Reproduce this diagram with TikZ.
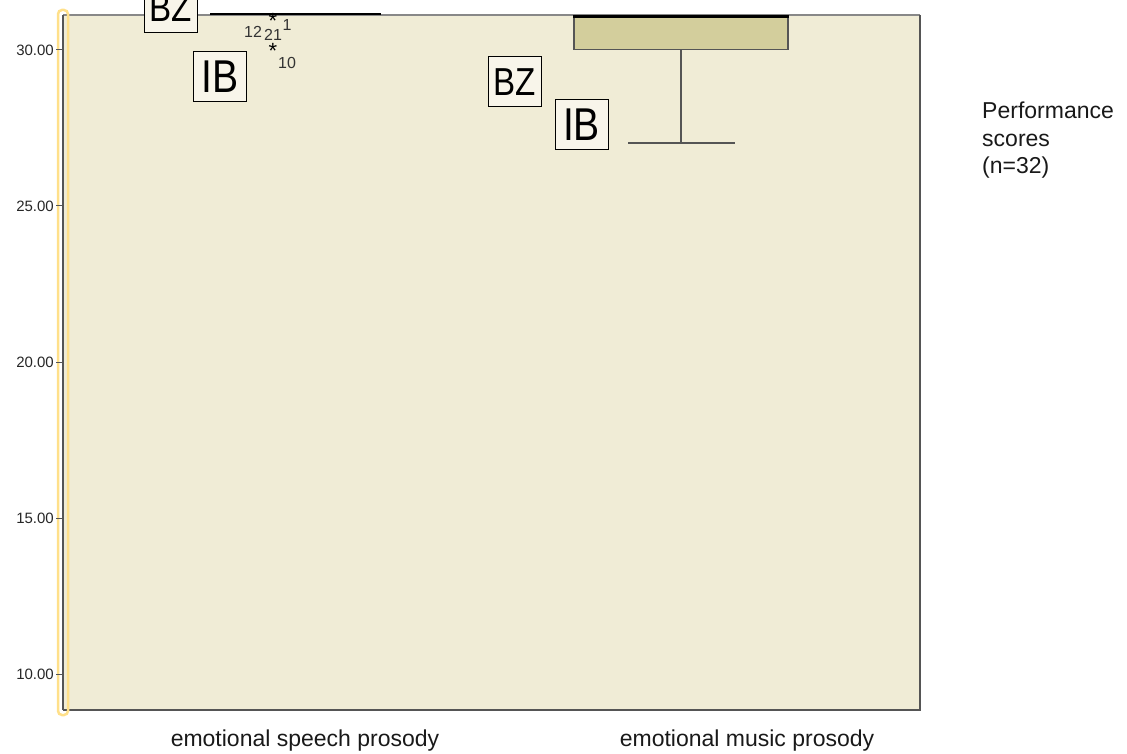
\documentclass[tikz,border=0pt]{standalone}
\usepackage{fontspec}
\setmainfont{Liberation Sans}
\usetikzlibrary{positioning}
\definecolor{plotbg}{HTML}{F0ECD6}
\definecolor{boxfill}{HTML}{D3CE9C}
\definecolor{axisyellow}{HTML}{FFE08A}
\definecolor{framegray}{HTML}{555555}

\begin{document}
\begin{tikzpicture}[x=1pt, y=-1pt]
        \tikzstyle{tag} = [rectangle, draw=black, fill=plotbg!50!white, line width=1pt,
          minimum width=53pt, minimum height=50pt, inner sep=0pt]
        \tikzstyle{tick} = [font=\fontsize{15}{18}\selectfont, anchor=east, inner sep=0pt, text=black!85]
        \tikzstyle{case} = [font=\fontsize{16}{18}\selectfont, inner sep=0pt, text=black!80]
        \tikzstyle{outlier} = [font=\fontsize{22}{22}\selectfont, inner sep=0pt, text=black]
        \tikzstyle{catlabel} = [font=\fontsize{23}{27.5}\selectfont, inner sep=0pt, text=black!90]

        \useasboundingbox (0,0) rectangle (1127,754);
        \clip (0,0) rectangle (1127,754);

        % plot area
        \fill[plotbg] (63,15) rectangle (920,710);
        \draw[framegray!70, line width=1.2pt] (63,15) -- (920,15);
        \draw[framegray, line width=1.5pt] (920,15) -- (920,710) -- (63,710);
        \draw[axisyellow, line width=2.5pt, rounded corners=4pt] (58,10) rectangle (68,715);
        \draw[framegray, line width=1.5pt] (63,15) -- (63,710);

        % y axis
        \foreach \val [count=\i] in {30.00,25.00,20.00,15.00,10.00} {
          \draw[framegray, line width=1pt] (56,50+156*\i-156) -- (62,50+156*\i-156);
          \node[tick] (tick\i) at (54,50+156*\i-156) {\val};
        }

        % emotional speech prosody
        \draw[line width=2pt] (210,14) -- (381,14);
        \node[outlier] (o1) at (273,21) {*};
        \node[outlier] (o10) at (273,51) {*};
        \node[case] at (287,25) {1};
        \node[case] at (253,32) {12};
        \node[case] at (273,35) {21};
        \node[case] at (287,63) {10};
        \node[tag, font=\fontsize{39}{39}\selectfont] (bzs) at (171,8) {\scalebox{0.85}[1]{BZ}};
        \node[tag, font=\fontsize{46}{46}\selectfont] (ibs) at (220,77) {\scalebox{0.85}[1]{IB}};

        % emotional music prosody
        \node[rectangle, draw=framegray, fill=boxfill, line width=1.2pt, anchor=north,
          minimum width=214pt, minimum height=34pt, inner sep=0pt] (mbox) at (681,15) {};
        \draw[line width=2.5pt] (mbox.north west) ++(0,1.5) -- ([yshift=-1.5pt]mbox.north east);
        \coordinate (mmin) at (681,143);
        \draw[framegray, line width=1.5pt] (mbox.south) -- (mmin);
        \draw[framegray, line width=1.5pt] ([xshift=-53pt]mmin) -- ([xshift=54pt]mmin);
        \node[tag, font=\fontsize{39}{39}\selectfont] (bzm) at (514.5,82) {\scalebox{0.85}[1]{BZ}};
        \node[tag, font=\fontsize{46}{46}\selectfont] (ibm) at (581.5,125) {\scalebox{0.85}[1]{IB}};

        % labels
        \node[catlabel] (speech) at (305,741) {emotional speech prosody};
        \node[catlabel] (music) at (747,741) {emotional music prosody};
        \node[catlabel, anchor=north west, align=left] (legend) at (982,102) {Performance\\scores\\(n=32)};
      \end{tikzpicture}
\end{document}
